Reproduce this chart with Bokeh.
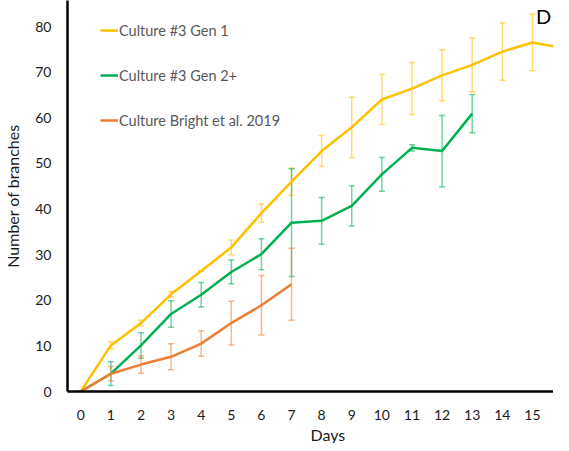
from bokeh.plotting import figure
from bokeh.models import ColumnDataSource, Whisker, FixedTicker, Legend, LegendItem, Title, TeeHead, Range1d, Label
from bokeh.embed import file_html
from bokeh.resources import INLINE

# ---- data ----
days_gen1 = [0, 1, 2, 3, 4, 5, 6, 7, 8, 9, 10, 11, 12, 13, 14, 15, 16]
gen1 = [0, 10.1, 15.0, 21.3, 26.4, 31.6, 39.1, 46.0, 52.7, 57.9, 64.0, 66.4, 69.3, 71.6, 74.5, 76.5, 75.3]
gen1_err = [0, 0.8, 0.6, 0.6, 0, 1.6, 2.0, 3.0, 3.4, 6.6, 5.5, 5.7, 5.6, 5.9, 6.3, 6.2, 6.0]

days_gen2 = [0, 1, 2, 3, 4, 5, 6, 7, 8, 9, 10, 11, 12, 13]
gen2 = [0, 3.9, 10.1, 17.0, 21.2, 26.2, 30.1, 37.0, 37.4, 40.7, 47.6, 53.4, 52.7, 60.9]
gen2_err = [0, 2.6, 2.8, 2.9, 2.7, 2.6, 3.4, 11.8, 5.1, 4.4, 3.7, 0.7, 7.8, 4.2]

days_bright = [0, 1, 2, 3, 4, 5, 6, 7]
bright = [0, 3.9, 5.9, 7.6, 10.5, 15.0, 18.9, 23.5]
bright_err = [0, 1.6, 1.9, 2.85, 2.8, 4.8, 6.5, 7.9]

labels = ["Culture #3 Gen 1", "Culture #3 Gen 2+", "Culture Bright et al. 2019"]
colors = ["#FFC000", "#00B050", "#ED7D31"]
x_ticks = list(range(0, 17))
y_ticks = list(range(0, 90, 10))
x_title = "Days"
y_title = "Number of branches"
panel_letter = "D"

FONT = "Lato"

p = figure(width=553, height=443, output_backend="svg", toolbar_location=None,
           x_range=Range1d(-0.44, 15.70), y_range=Range1d(0, 85.7),
           min_border_left=59, min_border_top=0, min_border_right=0, min_border_bottom=51)
p.outline_line_color = None
p.xgrid.grid_line_color = None
p.ygrid.grid_line_color = None

series = [(days_gen1, gen1, gen1_err), (days_gen2, gen2, gen2_err), (days_bright, bright, bright_err)]
items = []
for (xs, ys, es), lab, col in zip(series, labels, colors):
    src = ColumnDataSource(dict(x=xs, y=ys,
                                upper=[a + b for a, b in zip(ys, es)],
                                lower=[a - b for a, b in zip(ys, es)]))
    w = Whisker(base="x", upper="upper", lower="lower", source=src,
                line_color=col, line_alpha=0.55, line_width=1.5,
                upper_head=TeeHead(size=6, line_color=col, line_alpha=0.55, line_width=1.5),
                lower_head=TeeHead(size=6, line_color=col, line_alpha=0.55, line_width=1.5))
    p.add_layout(w)
    r = p.line("x", "y", source=src, line_color=col, line_width=2.5)
    items.append(LegendItem(label=lab, renderers=[r]))

legend = Legend(items=items, location=(33, 261), orientation="vertical",
                border_line_color=None, background_fill_alpha=0,
                label_text_font=FONT, label_text_font_size="14.5px", label_text_color="#595959",
                glyph_width=18, glyph_height=20, label_height=20, label_standoff=1,
                spacing=25, padding=0, margin=0)
p.add_layout(legend)

for ax in (p.xaxis[0], p.yaxis[0]):
    ax.axis_line_color = "black"
    ax.axis_line_width = 2.5
    ax.major_tick_line_color = None
    ax.minor_tick_line_color = None
    ax.major_label_text_font = FONT
    ax.major_label_text_font_size = "14px"
    ax.major_label_text_color = "#1a1a1a"
    ax.axis_label_text_font = FONT
    ax.axis_label_text_font_size = "16px"
    ax.axis_label_text_font_style = "normal"
    ax.axis_label_text_color = "#1a1a1a"

p.xaxis.ticker = FixedTicker(ticks=x_ticks)
p.yaxis.ticker = FixedTicker(ticks=y_ticks)
p.xaxis.major_label_standoff = 12
p.yaxis.major_label_standoff = 10
p.yaxis.axis_label = y_title
p.yaxis.axis_label_standoff = 10

days_title = Title(text=x_title, align="left", offset=243, standoff=0,
                   text_font=FONT, text_font_size="16px", text_font_style="normal",
                   text_color="#1a1a1a", vertical_align="bottom")
p.add_layout(days_title, "below")

letter = Label(x=15.62, y=84.9, x_units="data", y_units="data", text=panel_letter,
               text_font=FONT, text_font_size="20px", text_color="black",
               text_align="right", text_baseline="top")
p.add_layout(letter)

open("out.html", "w").write(file_html(p, INLINE))
